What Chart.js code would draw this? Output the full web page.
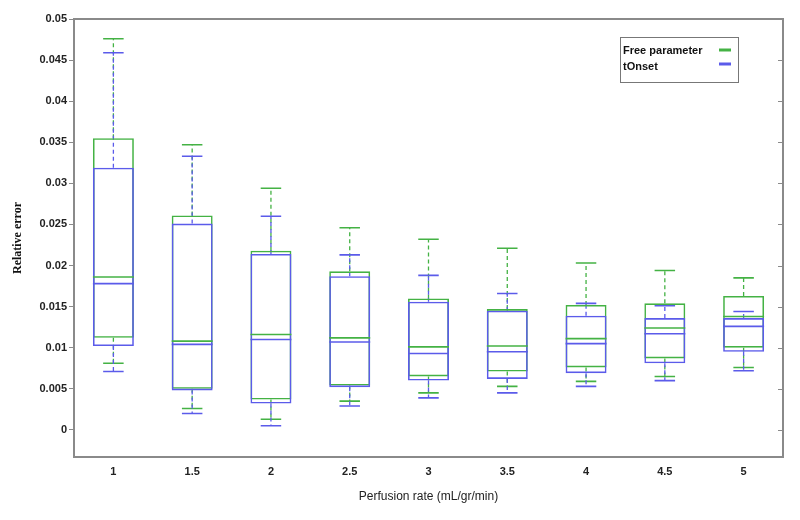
<!DOCTYPE html>
<html>
<head>
<meta charset="utf-8">
<script src="https://cdn.jsdelivr.net/npm/chart.js@4"></script>
<style>
  html, body { margin: 0; padding: 0; background: #fff; }
  #wrap { width: 800px; height: 520px; position: relative; }
</style>
</head>
<body>
<div id="wrap"><canvas id="c" width="800" height="520"></canvas></div>
<script>
// ---- data ----
const categories = ['1', '1.5', '2', '2.5', '3', '3.5', '4', '4.5', '5'];
const yTickValues = [0, 0.005, 0.01, 0.015, 0.02, 0.025, 0.03, 0.035, 0.04, 0.045, 0.05];
const seriesNames = ['Free parameter', 'tOnset'];

const freeMin    = [0.0081, 0.0026, 0.0013, 0.0035, 0.0045, 0.0053, 0.0059, 0.0065, 0.0076];
const freeQ1     = [0.0112, 0.0050, 0.0037, 0.0054, 0.0065, 0.0071, 0.0076, 0.0087, 0.0100];
const freeMedian = [0.0186, 0.0108, 0.0116, 0.0112, 0.0101, 0.0102, 0.0111, 0.0124, 0.0138];
const freeQ3     = [0.0355, 0.0261, 0.0218, 0.0193, 0.0160, 0.0147, 0.0152, 0.0154, 0.0163];
const freeMax    = [0.0476, 0.0347, 0.0294, 0.0246, 0.0232, 0.0221, 0.0203, 0.0194, 0.0185];

const onsetMin    = [0.0071, 0.0020, 0.0005, 0.0029, 0.0039, 0.0045, 0.0053, 0.0060, 0.0072];
const onsetQ1     = [0.0102, 0.0048, 0.0032, 0.0052, 0.0060, 0.0062, 0.0069, 0.0081, 0.0095];
const onsetMedian = [0.0178, 0.0104, 0.0110, 0.0107, 0.0093, 0.0095, 0.0105, 0.0117, 0.0126];
const onsetQ3     = [0.0319, 0.0251, 0.0214, 0.0187, 0.0156, 0.0145, 0.0139, 0.0136, 0.0136];
const onsetMax    = [0.0459, 0.0333, 0.0260, 0.0213, 0.0188, 0.0166, 0.0154, 0.0151, 0.0144];

// ---- styles ----
const GREEN = '#44b244';
const BLUE = '#5b5bea';
const FRAME = '#8a8a8a';

const stats = [
  { min: freeMin, q1: freeQ1, med: freeMedian, q3: freeQ3, max: freeMax, color: GREEN },
  { min: onsetMin, q1: onsetQ1, med: onsetMedian, q3: onsetQ3, max: onsetMax, color: BLUE }
];

const datasets = stats.map((s, k) => ({
  label: seriesNames[k],
  data: s.q1.map((v, i) => [v, s.q3[i]]),
  backgroundColor: 'rgba(0,0,0,0)',
  borderColor: s.color,
  borderWidth: 1.6,
  borderSkipped: false,
  grouped: false,
  order: 1 - k,
  barPercentage: 0.52,
  categoryPercentage: 1.0
}));

const boxExtras = {
  id: 'boxExtras',
  beforeDatasetsDraw(chart) {
    const ctx = chart.ctx, y = chart.scales.y;
    stats.forEach((s, k) => {
      const meta = chart.getDatasetMeta(k);
      meta.data.forEach((bar, i) => {
        const { x, width } = bar.getProps(['x', 'width'], true);
        const cap = width / 4;
        ctx.save();
        ctx.strokeStyle = s.color;
        ctx.lineWidth = 1.3;
        ctx.setLineDash([4, 3]);
        ctx.beginPath();
        ctx.moveTo(x, y.getPixelForValue(s.q3[i]));
        ctx.lineTo(x, y.getPixelForValue(s.max[i]));
        ctx.moveTo(x, y.getPixelForValue(s.q1[i]));
        ctx.lineTo(x, y.getPixelForValue(s.min[i]));
        ctx.stroke();
        ctx.setLineDash([]);
        ctx.lineWidth = 1.6;
        ctx.beginPath();
        const yMax = y.getPixelForValue(s.max[i]);
        const yMin = y.getPixelForValue(s.min[i]);
        ctx.moveTo(x - cap, yMax); ctx.lineTo(x + cap, yMax);
        ctx.moveTo(x - cap, yMin); ctx.lineTo(x + cap, yMin);
        ctx.stroke();
        ctx.restore();
      });
    });
  },
  afterDatasetsDraw(chart) {
    const ctx = chart.ctx, y = chart.scales.y;
    stats.forEach((s, k) => {
      const meta = chart.getDatasetMeta(k);
      meta.data.forEach((bar, i) => {
        const { x, width } = bar.getProps(['x', 'width'], true);
        const ym = y.getPixelForValue(s.med[i]);
        ctx.save();
        ctx.strokeStyle = s.color;
        ctx.lineWidth = 1.6;
        ctx.beginPath();
        ctx.moveTo(x - width / 2, ym); ctx.lineTo(x + width / 2, ym);
        ctx.stroke();
        ctx.restore();
      });
    });
  },
  afterDraw(chart) {
    const ctx = chart.ctx, a = chart.chartArea, y = chart.scales.y;
    ctx.save();
    // frame
    ctx.strokeStyle = FRAME;
    ctx.lineWidth = 2;
    ctx.strokeRect(a.left, a.top, a.right - a.left, a.bottom - a.top);
    // inward ticks on right side
    ctx.lineWidth = 1;
    ctx.beginPath();
    yTickValues.forEach(v => {
      const py = Math.round(y.getPixelForValue(v)) + 0.5;
      ctx.moveTo(a.right - 5, py); ctx.lineTo(a.right, py);
    });
    ctx.stroke();
    // legend
    const lx = 620, ly = 37, lw = 118, lh = 45;
    ctx.fillStyle = '#fff';
    ctx.fillRect(lx, ly, lw, lh);
    ctx.strokeStyle = '#777';
    ctx.lineWidth = 1;
    ctx.strokeRect(lx + 0.5, ly + 0.5, lw, lh);
    ctx.font = 'bold 11px "Liberation Sans", Arial, sans-serif';
    ctx.textBaseline = 'middle';
    ctx.fillStyle = '#111';
    const rows = [51, 67];
    stats.forEach((s, k) => {
      ctx.fillText(seriesNames[k], lx + 3, ly + (rows[k] - 37));
      ctx.strokeStyle = s.color;
      ctx.lineWidth = 3;
      ctx.beginPath();
      ctx.moveTo(719, rows[k] - 1 - k * 2); ctx.lineTo(731, rows[k] - 1 - k * 2);
      ctx.stroke();
    });
    ctx.restore();
  }
};

new Chart(document.getElementById('c'), {
  type: 'bar',
  data: { labels: categories, datasets },
  plugins: [boxExtras],
  options: {
    responsive: false,
    animation: false,
    events: [],
    layout: { padding: { left: 0, top: 19, right: 17, bottom: 0 } },
    plugins: { legend: { display: false }, tooltip: { enabled: false } },
    scales: {
      x: {
        type: 'category',
        grid: { display: false, drawTicks: false },
        border: { display: false },
        ticks: {
          color: '#222',
          padding: 8,
          font: { family: '"Liberation Sans", Arial, sans-serif', size: 11, weight: 'bold' }
        },
        title: {
          display: true,
          text: 'Perfusion rate (mL/gr/min)',
          color: '#222',
          font: { family: '"Liberation Sans", Arial, sans-serif', size: 12 },
          padding: { top: 0, bottom: 16 }
        },
        afterFit(scale) { scale.height = 63; }
      },
      y: {
        type: 'linear',
        min: -0.0033,
        max: 0.05,
        grid: { display: true, drawOnChartArea: false, drawTicks: true, tickLength: 5, color: FRAME },
        border: { display: false },
        afterBuildTicks(scale) { scale.ticks = yTickValues.map(v => ({ value: v })); },
        ticks: {
          color: '#222',
          padding: 2,
          font: { family: '"Liberation Sans", Arial, sans-serif', size: 11, weight: 'bold' },
          callback: v => String(Number(v.toFixed(4)))
        },
        title: {
          display: true,
          text: 'Relative error',
          color: '#111',
          font: { family: '"Liberation Serif", "Times New Roman", serif', size: 12, weight: 'bold' },
          padding: { top: 11, bottom: 0 }
        },
        afterFit(scale) { scale.width = 74; }
      }
    }
  }
});
</script>
</body>
</html>
